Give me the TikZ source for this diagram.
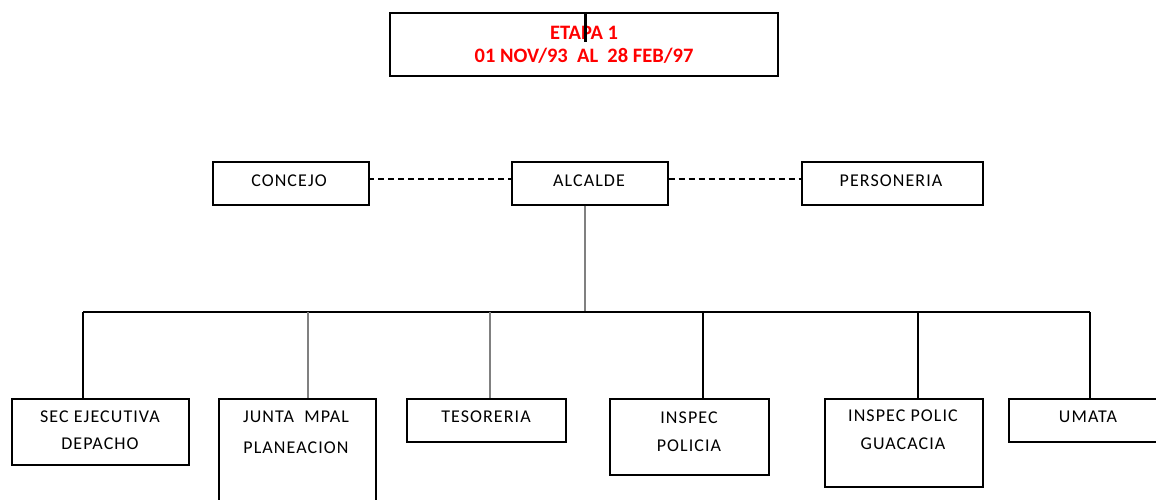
\documentclass[tikz,border=0pt]{standalone}
\usepackage{fontspec}
\setmainfont{Carlito}[LetterSpace=6]
\newfontfamily\titlefont{Carlito}
\begin{document}
\begin{tikzpicture}[x=1pt,y=-1pt,
  box/.style={draw=black,line width=1.6pt,rectangle,inner sep=0pt,anchor=north west,font=\fontsize{18}{22}\selectfont,align=center},
  lbl/.style={font=\fontsize{18}{22}\selectfont},
  conn/.style={line width=1.3pt,black},
  gconn/.style={line width=1.3pt,gray},
  dconn/.style={line width=1.3pt,dash pattern=on 6pt off 4pt}]
\useasboundingbox (0,0) rectangle (1156,500);
% top
\node[draw=black,line width=1.6pt,rectangle,anchor=north west,minimum width=388pt,minimum height=63pt,inner sep=0pt] (top) at (389,12) {};
\node[font=\titlefont\bfseries\fontsize{20.5}{23}\selectfont,text=red,align=center] (etapa) at (584,45) {ETAPA 1\\01 NOV/93\ \ AL\ \ 28 FEB/97};
\coordinate (tickt) at (585,12);
\coordinate (tickb) at (585,42);
\draw[line width=3pt] (tickt) -- (tickb);
% second row
\node[box,minimum width=156pt,minimum height=43pt] (concejo) at (212,161) {};
\node[box,minimum width=156pt,minimum height=43pt] (alcalde) at (511,161) {};
\node[box,minimum width=181pt,minimum height=43pt] (person) at (801,161) {};
\node[lbl] (c1) at (289,181) {CONCEJO};
\node[lbl] (c2) at (589,181) {ALCALDE};
\node[lbl] (c3) at (891,181) {PERSONERIA};
\coordinate (dl) at (368,179);
\coordinate (dr) at (801,179);
\draw[dconn] (dl) -- (dl -| alcalde.west);
\draw[dconn] (dr -| alcalde.east) -- (dr);
% bottom boxes
\node[box,minimum width=177pt,minimum height=66pt] (sec) at (11,398) {};
\node[box,minimum width=157pt,minimum height=110pt] (junta) at (218,398) {};
\node[box,minimum width=159pt,minimum height=43pt] (teso) at (406,398) {};
\node[box,minimum width=159pt,minimum height=76pt] (insp) at (609,398) {};
\node[box,minimum width=158pt,minimum height=88pt] (inspg) at (824,398) {};
\node[box,minimum width=160pt,minimum height=43pt] (umata) at (1008,398) {};
\node[lbl] (t1) at (100,417) {SEC EJECUTIVA};
\node[lbl] (t2) at (100,444) {DEPACHO};
\node[lbl] (t3) at (296,417) {JUNTA\ \ MPAL};
\node[lbl] (t4) at (296,448) {PLANEACION};
\node[lbl] (t5) at (486,417) {TESORERIA};
\node[lbl] (t6) at (689,418) {INSPEC};
\node[lbl] (t7) at (689,446) {POLICIA};
\node[lbl] (t8) at (903,416) {INSPEC POLIC};
\node[lbl] (t9) at (903,444) {GUACACIA};
\node[lbl] (t10) at (1088,417) {UMATA};
% tree
\coordinate (bus) at (585,312);
\coordinate (busl) at (83,312);
\coordinate (busr) at (1090,312);
\draw[gconn] (bus |- alcalde.south) -- (bus);
\draw[conn] (busl) -- (busr);
\draw[conn] (busl) -- (busl |- sec.north);
\draw[gconn] (308,312) -- (308,398);
\draw[gconn] (490,312) -- (490,398);
\draw[conn] (703,312) -- (703,398);
\draw[conn] (918,312) -- (918,398);
\draw[conn] (busr) -- (busr |- umata.north);
\end{tikzpicture}
\end{document}
